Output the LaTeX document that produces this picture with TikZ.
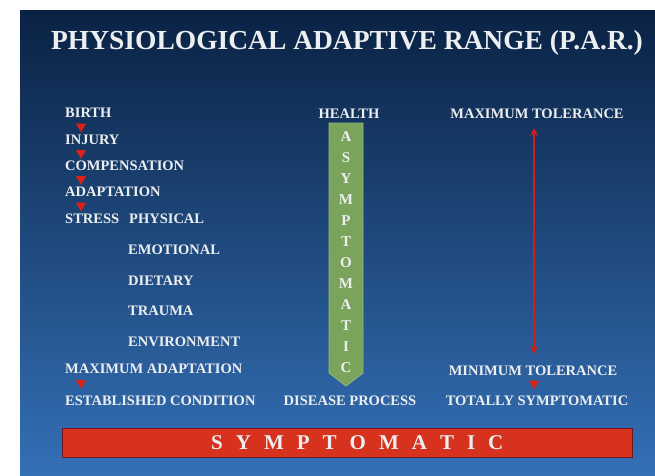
\documentclass[tikz,border=0pt]{standalone}
\usepackage{fontspec}
\setmainfont{Liberation Serif}
\usetikzlibrary{arrows.meta,shapes.geometric}

\definecolor{bgtop}{RGB}{10,34,68}
\definecolor{bgmid}{RGB}{22,70,128}
\definecolor{bgbot}{RGB}{52,112,182}
\definecolor{txt}{RGB}{236,238,240}
\definecolor{arrowgreen}{RGB}{122,164,92}
\definecolor{arrowgreenedge}{RGB}{150,186,118}
\definecolor{barred}{RGB}{214,50,30}
\definecolor{baredge}{RGB}{110,20,35}
\definecolor{markred}{RGB}{222,32,22}
\definecolor{rangered}{RGB}{205,32,26}

\tikzset{
  lab/.style={text=txt, inner sep=0pt, text height=9.6pt, text depth=0pt,
    font=\bfseries\fontsize{14.5}{16}\selectfont},
  leftlab/.style={lab, anchor=west},
  title/.style={text=txt, inner sep=0pt,
    font=\bfseries\fontsize{27.5}{30}\selectfont},
  downmark/.style={regular polygon, regular polygon sides=3, shape border rotate=180,
    fill=markred, inner sep=0pt, minimum size=11.5pt},
  greenletter/.style={text=txt, inner sep=0pt, font=\bfseries\fontsize{15}{16}\selectfont},
  barletter/.style={text=txt, inner sep=0pt, anchor=west, text height=13.9pt,
    text depth=0pt, font=\bfseries\fontsize{21}{22}\selectfont},
  tolerancearrow/.style={draw=rangered, line width=2.8pt,
    {Stealth[length=8pt,width=8pt]}-{Stealth[length=8pt,width=8pt]}},
}

\begin{document}
\begin{tikzpicture}[x=1pt,y=-1pt]
\useasboundingbox (0,0) rectangle (655,475);
\fill[white] (0,0) rectangle (655,475);
% slide background
\shade[top color=bgtop, middle color=bgmid, bottom color=bgbot] (20,10) rectangle (655,475);

% heading
\node[title] (head) at (347,43) {PHYSIOLOGICAL ADAPTIVE RANGE (P.A.R.)};

% left column: course of adaptation
\node[leftlab] (birth)   at (65,113) {BIRTH};
\node[leftlab] (injury)  at (65,140) {INJURY};
\node[leftlab] (comp)    at (65,166) {COMPENSATION};
\node[leftlab] (adapt)   at (65,192) {ADAPTATION};
\node[leftlab] (stress)  at (65,219) {STRESS};
\node[leftlab] (phys)    at (129,219) {PHYSICAL};
\node[leftlab] (emot)    at (128,250) {EMOTIONAL};
\node[leftlab] (diet)    at (128,281) {DIETARY};
\node[leftlab] (trauma)  at (128,311) {TRAUMA};
\node[leftlab] (env)     at (128,342) {ENVIRONMENT};
\node[leftlab] (maxad)   at (65,369) {MAXIMUM ADAPTATION};
\node[leftlab] (estab)   at (65,401) {ESTABLISHED CONDITION};

\node[downmark] (m1) at (81,126.5) {};
\node[downmark] (m2) at (81,153) {};
\node[downmark] (m3) at (81,179) {};
\node[downmark] (m4) at (81,205.5) {};
\node[downmark] (m5) at (81,383) {};

% middle column: health to disease
\node[lab] (health)  at (349,114) {HEALTH};
\node[lab] (disease) at (350,401) {DISEASE PROCESS};
\draw[fill=arrowgreen, draw=arrowgreenedge, line width=0.8pt]
  (329,123) -- (363,123) -- (363,373) -- (346,386) -- (329,373) -- cycle;
\foreach \l [count=\i from 0] in {A,S,Y,M,P,T,O,M,A,T,I,C}
  \node[greenletter] (g\i) at (346,137+21*\i) {\l};

% right column: tolerance range
\node[lab] (maxtol)  at (537,114) {MAXIMUM TOLERANCE};
\node[lab] (mintol)  at (533,371) {MINIMUM TOLERANCE};
\node[lab] (totally) at (537,401) {TOTALLY SYMPTOMATIC};
\coordinate (rtop) at (534,128);
\coordinate (rbot) at (534,354);
\draw[tolerancearrow] (rtop) -- (rbot);
\node[downmark] (m6) at (534,383.5) {};

% bottom bar with spaced-out lettering
\node[fill=barred, draw=baredge, line width=0.8pt, minimum width=570pt,
  minimum height=29pt, inner sep=0pt] (bar) at (347,442.5) {};
\node[barletter] (b0) at (211,443) {S};
\foreach \l [count=\i from 1, remember=\i as \j (initially 0)] in {Y,M,P,T,O,M,A,T,I,C}
  \node[barletter] (b\i) at ([xshift=12.6pt]b\j.east) {\l};
\end{tikzpicture}
\end{document}
